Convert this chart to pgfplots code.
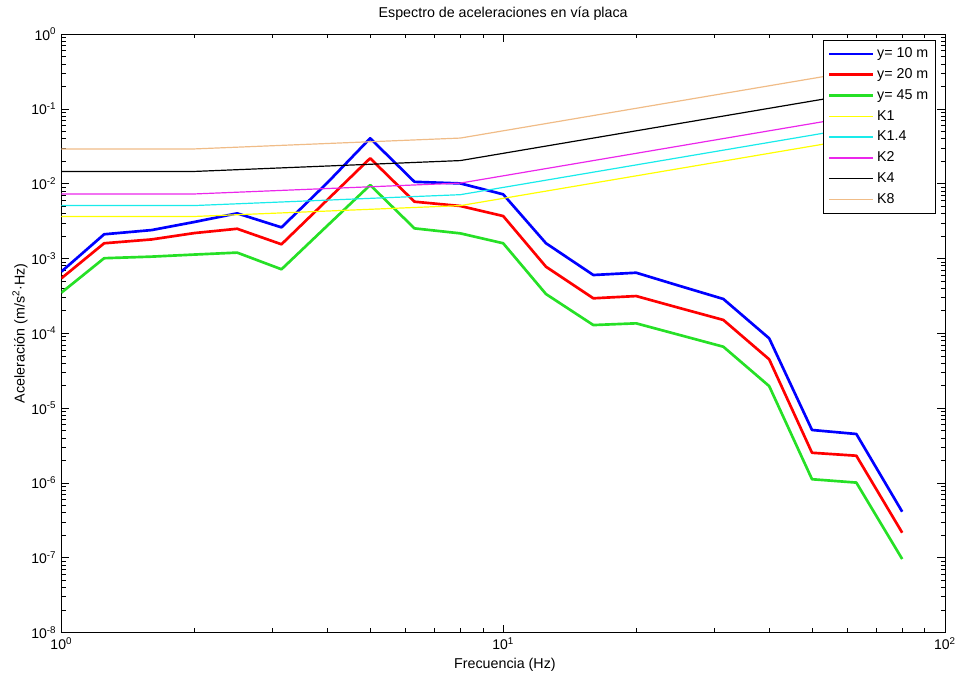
\documentclass[border=0pt]{standalone}
\usepackage{fontspec}
\setmainfont{Liberation Sans}
\usepackage{pgfplots}
\usepackage{pgfplotstable}
\pgfplotsset{compat=1.18}
\definecolor{cblue}{rgb}{0,0,1}
\definecolor{cred}{rgb}{1,0,0}
\definecolor{cgreen}{rgb}{0.15,0.88,0.15}
\definecolor{cyel}{rgb}{1,1,0}
\definecolor{ccyan}{rgb}{0.1,0.92,0.92}
\definecolor{cmag}{rgb}{0.92,0.15,0.92}
\definecolor{ctan}{RGB}{240,188,135}
\pgfplotstableread{
f y10 y20 y45
1     6.67e-4 5.43e-4 3.49e-4
1.25  2.11e-3 1.60e-3 1.01e-3
1.6   2.40e-3 1.80e-3 1.06e-3
2     3.08e-3 2.19e-3 1.13e-3
2.5   4.02e-3 2.50e-3 1.20e-3
3.15  2.61e-3 1.55e-3 7.18e-4
4     1.03e-2 6.09e-3 2.75e-3
5     4.05e-2 2.19e-2 9.61e-3
6.3   1.06e-2 5.75e-3 2.53e-3
8     1.01e-2 5.04e-3 2.17e-3
10    7.22e-3 3.70e-3 1.60e-3
12.5  1.60e-3 7.77e-4 3.35e-4
16    6.02e-4 2.94e-4 1.29e-4
20    6.46e-4 3.15e-4 1.36e-4
25    4.33e-4 2.19e-4 9.55e-5
31.5  2.88e-4 1.51e-4 6.62e-5
40    8.57e-5 4.49e-5 1.97e-5
50    5.10e-6 2.53e-6 1.12e-6
63    4.51e-6 2.31e-6 1.01e-6
80    4.12e-7 2.16e-7 9.6e-8
}\spectra
\pgfplotstableread{
f K1 K14 K2 K4 K8
1   0.00365 0.00511 0.0073 0.0146 0.0292
2   0.00365 0.00511 0.0073 0.0146 0.0292
8   0.0051  0.00714 0.0102 0.0204 0.0408
80  0.051   0.0714  0.102  0.204  0.408
}\curves
\begin{document}
\fontsize{10.7}{12.5}\selectfont
\begin{tikzpicture}
\useasboundingbox (-46pt,-34.9pt) rectangle (670.3pt,474.4pt);
\begin{axis}[
  at={(0,0)}, anchor=south west,
  scale only axis, width=662.8pt, height=448.8pt,
  xmode=log, ymode=log, log basis x=10, log basis y=10,
  xmin=1, xmax=100, ymin=1e-8, ymax=1,
  tick align=inside,
  major tick length=6pt, minor tick length=3.2pt,
  axis line style={black, line width=0.6pt},
  every tick/.style={black, line width=0.5pt},
  xticklabel={\pgfmathparse{int(round(\tick))}10\textsuperscript{\pgfmathresult}},
  yticklabel={\pgfmathparse{int(round(\tick))}10\textsuperscript{\pgfmathresult}},
  tick label style={font=\fontsize{10.5}{12.5}\selectfont},
  xlabel={Frecuencia (Hz)},
  xlabel style={at={(axis description cs:0.502,-0.054)}, anchor=center, font=\fontsize{10.7}{12.5}\selectfont},
  ylabel={Aceleración (m/s\textsuperscript{2}·Hz)},
  ylabel style={at={(axis description cs:-0.0467,0.5)}, anchor=center, font=\fontsize{10.7}{12.5}\selectfont},
  legend style={at={(0.989,0.99)}, anchor=north east, draw=black, line width=0.5pt, fill=white,
    font=\fontsize{10.7}{12.5}\selectfont, row sep=2.6pt, inner xsep=3pt, inner ysep=3.5pt},
  legend cell align=left,
  legend image code/.code={\draw[#1] (0pt,0pt) -- (33pt,0pt);},
]
\addplot[cblue, line width=2pt, line join=round] table[x=f,y=y10] {\spectra};
\addlegendentry{y= 10 m}
\addplot[cred, line width=2pt, line join=round] table[x=f,y=y20] {\spectra};
\addlegendentry{y= 20 m}
\addplot[cgreen, line width=2pt, line join=round] table[x=f,y=y45] {\spectra};
\addlegendentry{y= 45 m}
\addplot[cyel, line width=0.9pt] table[x=f,y=K1] {\curves};
\addlegendentry{K1}
\addplot[ccyan, line width=0.9pt] table[x=f,y=K14] {\curves};
\addlegendentry{K1.4}
\addplot[cmag, line width=0.9pt] table[x=f,y=K2] {\curves};
\addlegendentry{K2}
\addplot[black, line width=0.9pt] table[x=f,y=K4] {\curves};
\addlegendentry{K4}
\addplot[ctan, line width=0.9pt] table[x=f,y=K8] {\curves};
\addlegendentry{K8}
\end{axis}
\node[anchor=center, font=\fontsize{10.7}{12.5}\selectfont] at ([yshift=15pt]current axis.north) {Espectro de aceleraciones en vía placa};
\end{tikzpicture}
\end{document}
